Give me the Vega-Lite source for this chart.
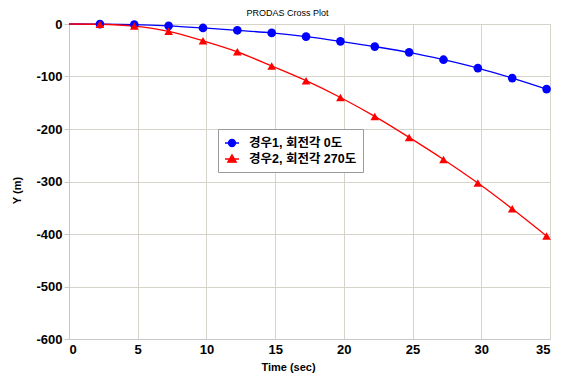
{
  "$schema": "https://vega.github.io/schema/vega-lite/v6.json",
  "width": 481,
  "height": 315,
  "autosize": "none",
  "padding": {"left": 69, "top": 24, "right": 17, "bottom": 35},
  "background": "white",
  "config": {
    "view": {"stroke": "#d8d8d8", "strokeWidth": 1},
    "font": "Liberation Sans"
  },
  "title": {
    "text": "PRODAS Cross Plot",
    "fontSize": 9,
    "fontWeight": "normal",
    "font": "Liberation Sans",
    "color": "black",
    "anchor": "middle",
    "dx": -22,
    "offset": 0
  },
  "datasets": {
    "curves": [
      {"t": 0, "y": 0, "series": "경우1, 회전각 0도"},
      {"t": 2.25, "y": -0.2, "series": "경우1, 회전각 0도"},
      {"t": 4.75, "y": -1, "series": "경우1, 회전각 0도"},
      {"t": 7.25, "y": -3.5, "series": "경우1, 회전각 0도"},
      {"t": 9.75, "y": -7.5, "series": "경우1, 회전각 0도"},
      {"t": 12.25, "y": -12, "series": "경우1, 회전각 0도"},
      {"t": 14.75, "y": -17, "series": "경우1, 회전각 0도"},
      {"t": 17.25, "y": -24, "series": "경우1, 회전각 0도"},
      {"t": 19.75, "y": -33, "series": "경우1, 회전각 0도"},
      {"t": 22.25, "y": -43, "series": "경우1, 회전각 0도"},
      {"t": 24.75, "y": -54, "series": "경우1, 회전각 0도"},
      {"t": 27.25, "y": -68, "series": "경우1, 회전각 0도"},
      {"t": 29.75, "y": -84, "series": "경우1, 회전각 0도"},
      {"t": 32.25, "y": -103, "series": "경우1, 회전각 0도"},
      {"t": 34.75, "y": -124, "series": "경우1, 회전각 0도"},
      {"t": 0, "y": 0, "series": "경우2, 회전각 270도"},
      {"t": 2.25, "y": -0.5, "series": "경우2, 회전각 270도"},
      {"t": 4.75, "y": -4, "series": "경우2, 회전각 270도"},
      {"t": 7.25, "y": -14, "series": "경우2, 회전각 270도"},
      {"t": 9.75, "y": -32, "series": "경우2, 회전각 270도"},
      {"t": 12.25, "y": -53, "series": "경우2, 회전각 270도"},
      {"t": 14.75, "y": -80, "series": "경우2, 회전각 270도"},
      {"t": 17.25, "y": -108, "series": "경우2, 회전각 270도"},
      {"t": 19.75, "y": -140, "series": "경우2, 회전각 270도"},
      {"t": 22.25, "y": -176, "series": "경우2, 회전각 270도"},
      {"t": 24.75, "y": -216, "series": "경우2, 회전각 270도"},
      {"t": 27.25, "y": -258, "series": "경우2, 회전각 270도"},
      {"t": 29.75, "y": -303, "series": "경우2, 회전각 270도"},
      {"t": 32.25, "y": -352, "series": "경우2, 회전각 270도"},
      {"t": 34.75, "y": -404, "series": "경우2, 회전각 270도"}
    ]
  },
  "data": {"name": "curves"},
  "encoding": {
    "x": {
      "field": "t",
      "type": "quantitative",
      "scale": {"domain": [0, 35], "nice": false},
      "axis": {
        "title": "Time (sec)",
        "values": [0, 5, 10, 15, 20, 25, 30, 35],
        "grid": true,
        "gridColor": "#d6d3ca",
        "gridOpacity": 1,
        "domainColor": "#c8c8c8",
        "tickColor": "#c8c8c8",
        "tickSize": 0,
        "labelFont": "Liberation Sans",
        "labelFontSize": 13,
        "labelFontWeight": "bold",
        "labelColor": "black",
        "labelPadding": 4,
        "titleFont": "Liberation Sans",
        "titleFontSize": 11,
        "titleFontWeight": "bold",
        "titleColor": "black",
        "titleX": 219,
        "titleY": 31,
        "titleBaseline": "alphabetic"
      }
    },
    "y": {
      "field": "y",
      "type": "quantitative",
      "scale": {"domain": [-600, 0], "nice": false},
      "axis": {
        "title": "Y (m)",
        "values": [0, -100, -200, -300, -400, -500, -600],
        "labelExpr": "'' + datum.value",
        "grid": true,
        "gridColor": "#d6d3ca",
        "gridOpacity": 1,
        "domainColor": "#c8c8c8",
        "tickColor": "#c8c8c8",
        "tickSize": 5,
        "labelFont": "Liberation Sans",
        "labelFontSize": 13,
        "labelFontWeight": "bold",
        "labelColor": "black",
        "labelPadding": 2,
        "titleFont": "Liberation Sans",
        "titleFontSize": 11,
        "titleFontWeight": "bold",
        "titleColor": "black",
        "titleX": -47,
        "titleY": 166
      }
    },
    "color": {
      "field": "series",
      "type": "nominal",
      "scale": {"domain": ["경우1, 회전각 0도", "경우2, 회전각 270도"], "range": ["#0000ff", "#ff0000"]},
      "legend": {
        "title": null,
        "orient": "none",
        "legendX": 149,
        "legendY": 105,
        "fillColor": "white",
        "strokeColor": "#9a9a9a",
        "padding": 6,
        "labelFont": "Liberation Sans, Noto Sans CJK KR",
        "labelFontSize": 12.5,
        "labelFontWeight": "bold",
        "labelColor": "black",
        "labelLimit": 300,
        "labelOffset": 9,
        "symbolSize": 196,
        "rowPadding": 1,
        "encode": {
          "symbols": {
            "update": {
              "shape": {"signal": "datum.value === '경우1, 회전각 0도' ? 'M-1,0H1M0.5,0A0.5,0.5,0,1,1,-0.5,0A0.5,0.5,0,1,1,0.5,0Z' : 'M-1,0H1M0,-0.6L0.6,0.45L-0.6,0.45Z'"},
              "strokeWidth": {"value": 1.3},
              "fillOpacity": {"value": 1},
              "strokeOpacity": {"value": 1}
            }
          }
        }
      }
    }
  },
  "layer": [
    {
      "mark": {"type": "line", "interpolate": "monotone", "strokeWidth": 1.3},
      "encoding": {}
    },
    {
      "transform": [{"filter": "datum.t > 0 && datum.series === '경우1, 회전각 0도'"}],
      "mark": {"type": "point", "shape": "circle", "filled": true, "opacity": 1, "size": 75},
      "encoding": {}
    },
    {
      "transform": [{"filter": "datum.t > 0 && datum.series === '경우2, 회전각 270도'"}],
      "mark": {"type": "point", "shape": "triangle-up", "filled": true, "opacity": 1, "size": 75},
      "encoding": {}
    }
  ]
}
